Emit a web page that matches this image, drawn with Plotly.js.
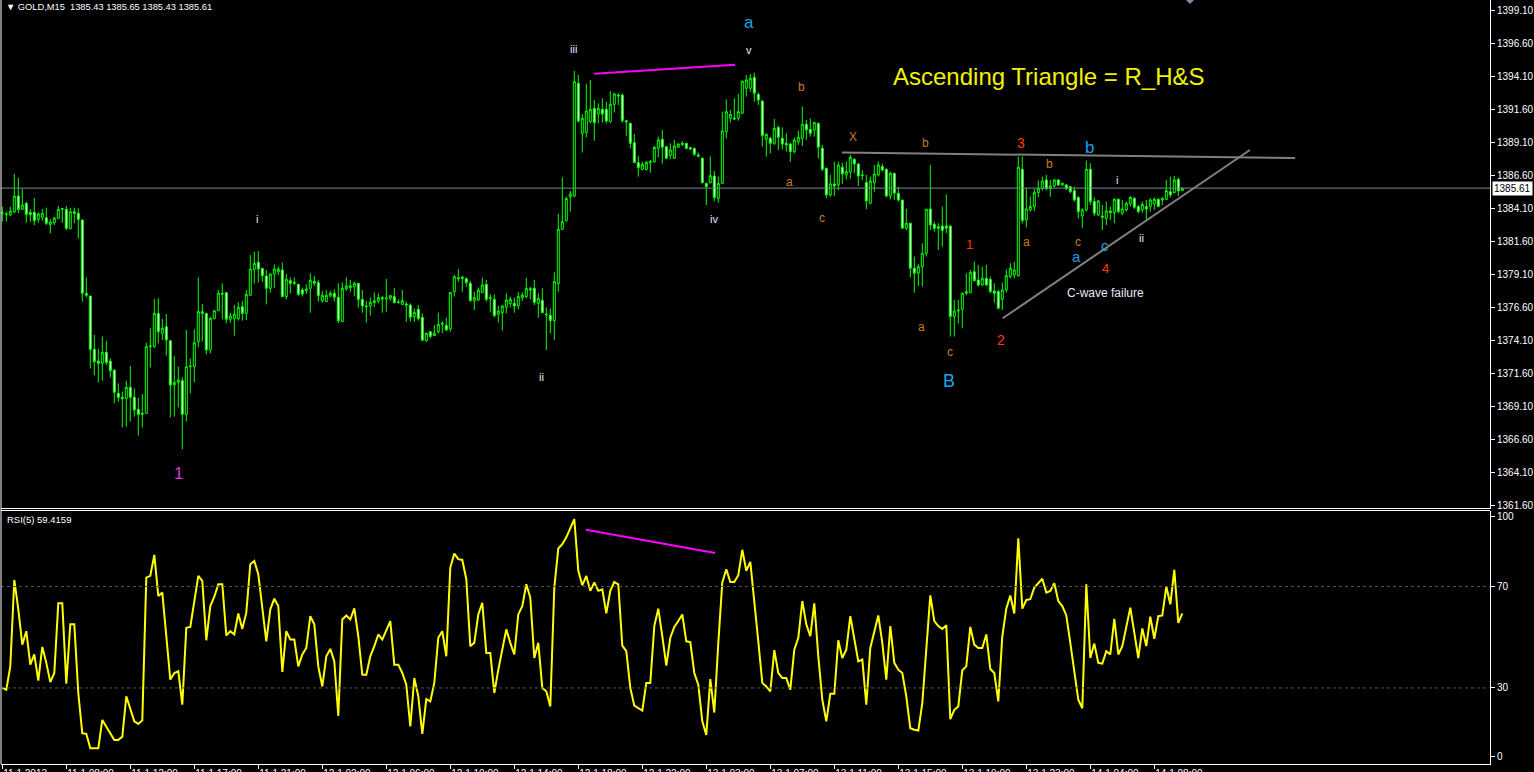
<!DOCTYPE html>
<html><head><meta charset="utf-8">
<script src="https://cdn.plot.ly/plotly-3.0.1.min.js"></script>
<style>html,body{margin:0;padding:0;background:#000;overflow:hidden}#c{width:1534px;height:772px}</style>
</head><body><div id="c"></div>
<script>
// ---- DATA: GOLD M15, 296 bars ----
const openP = [1383.70,1383.65,1383.57,1383.82,1385.01,1384.00,1384.46,1383.77,1383.77,1383.24,
1383.39,1383.37,1382.86,1382.99,1383.32,1384.05,1384.00,1382.54,1383.82,1383.70,
1383.19,1377.64,1377.44,1373.40,1372.51,1372.34,1373.17,1372.51,1371.83,1370.06,
1369.76,1369.68,1370.52,1369.76,1368.85,1368.47,1368.55,1373.60,1373.60,1376.12,
1374.61,1375.11,1374.05,1370.69,1370.90,1371.02,1368.47,1372.08,1372.08,1373.98,
1376.25,1376.12,1373.35,1375.72,1376.32,1377.64,1377.69,1375.67,1375.72,1375.72,
1376.63,1376.12,1377.49,1379.46,1379.99,1379.53,1378.95,1378.02,1379.10,1379.28,
1379.41,1377.39,1378.60,1378.47,1378.32,
1377.89,1377.84,1378.02,1378.55,1378.45,1377.08,1377.01,1377.44,1377.64,1377.34,
1375.49,1377.97,1378.07,1378.14,1378.40,1377.18,1376.68,1376.68,1376.93,1377.06,
1377.31,1377.23,1377.26,1377.39,1376.93,1376.80,1376.83,1376.75,1375.87,1376.43,
1375.82,1374.05,1374.73,1374.43,1374.73,1375.29,1375.21,1374.96,1377.76,1378.82,
1378.75,1378.75,1378.40,1377.08,1377.13,1377.71,1378.32,1377.23,1377.18,1376.05,
1376.17,1376.58,1376.88,1376.88,1376.70,1377.31,1377.39,1377.99,1378.02,1376.88,
1377.11,1376.07,1375.97,1375.57,1378.37,1382.49,1383.14,1384.96,1385.01,1393.55,
1389.76,1389.81,1390.64,1391.65,1391.22,1391.58,1391.58,1390.64,1391.96,1392.66,
1392.66,1390.72,1390.52,1389.05,1387.54,1387.03,1387.03,1387.54,1387.61,1388.62,
1389.31,1388.75,1388.07,1387.87,1388.70,1388.90,1389.00,1388.67,1388.62,1388.12,
1387.87,1385.97,1386.02,1386.53,1384.84,1385.97,1389.89,1390.90,1390.92,1390.90,
1391.28,1393.17,1393.17,1394.00,1392.71,1392.21,1389.31,1389.38,1389.00,1390.21,
1389.38,1389.00,1388.95,1388.37,1389.13,1389.38,1390.44,1390.06,1390.01,1390.52,
1388.63,1387.11,1385.09,1385.93,1385.85,1387.19,1386.61,1386.81,1387.79,1387.44,
1386.56,1386.03,1384.46,1386.03,1386.61,1387.24,1387.04,1385.01,1386.73,1385.22,
1384.71,1382.57,1382.95,1379.54,1379.16,1379.66,1380.67,1384.03,1382.87,1382.69,
1382.74,1382.74,1382.74,1375.88,1376.30,1376.43,1377.64,1377.69,1379.28,1378.65,
1378.27,1378.78,1378.70,1377.82,1377.77,1377.19,1377.90,1378.91,1379.03,1378.98,
1387.04,1383.20,1383.96,1384.21,1385.27,1385.60,1386.23,1385.60,1385.77,1386.23,
1385.85,1385.85,1385.72,1385.42,1384.91,1383.50,1383.96,1387.04,1384.59,1383.58,
1383.50,1383.32,1383.88,1383.75,1384.76,1383.70,1383.96,1384.41,1384.84,1384.21,
1383.96,1384.21,1384.21,1384.41,1384.76,1384.71,1384.76,1385.34,1385.27,1386.28,
1385.43];
const highP = [1384.20,1383.82,1384.20,1386.68,1386.40,1385.54,1384.56,1384.03,1384.86,1383.77,
1384.03,1384.13,1383.27,1383.42,1384.25,1384.10,1384.25,1384.10,1384.13,1384.08,
1383.24,1378.85,1377.44,1374.48,1373.42,1374.36,1374.03,1372.71,1371.83,1370.82,
1370.19,1371.00,1372.13,1370.44,1369.74,1370.01,1373.90,1374.99,1377.21,1377.28,
1375.69,1376.07,1374.10,1372.89,1372.08,1371.27,1374.86,1372.71,1374.91,1378.85,
1376.83,1376.12,1375.87,1376.38,1377.89,1378.40,1377.74,1376.17,1376.75,1376.96,
1377.06,1377.89,1380.54,1380.79,1380.84,1379.53,1379.41,1379.15,1379.83,1379.66,
1379.99,1379.10,1378.85,1378.85,1378.32,
1378.07,1378.32,1379.15,1378.95,1378.65,1377.81,1377.89,1377.84,1377.94,1378.40,
1378.47,1378.85,1378.65,1378.52,1378.40,1377.89,1377.08,1377.34,1377.71,1377.64,
1377.44,1378.72,1377.51,1378.04,1377.18,1377.89,1377.01,1376.88,1376.50,1376.75,
1376.12,1374.68,1374.78,1375.24,1376.17,1375.54,1375.79,1377.71,1379.03,1379.48,
1378.95,1378.85,1378.57,1377.74,1378.09,1378.82,1378.65,1377.56,1377.56,1376.68,
1376.75,1377.64,1377.39,1377.31,1377.74,1377.71,1378.80,1378.14,1378.65,1377.64,
1378.02,1376.58,1376.50,1379.23,1383.65,1386.42,1384.96,1385.39,1394.48,1394.18,
1391.22,1393.50,1393.80,1392.28,1392.03,1392.41,1392.16,1392.97,1392.84,1392.79,
1392.79,1390.77,1390.57,1389.71,1388.04,1387.61,1387.66,1387.74,1388.80,1389.51,
1390.01,1388.80,1389.00,1389.26,1389.00,1389.17,1389.05,1388.75,1388.67,1388.30,
1387.94,1386.02,1387.99,1386.91,1386.48,1391.40,1392.34,1391.53,1392.41,1392.74,
1393.72,1394.18,1394.25,1394.36,1392.84,1392.28,1389.76,1389.51,1390.85,1390.32,
1390.21,1389.76,1389.05,1389.43,1389.96,1391.78,1390.77,1390.90,1390.64,1390.57,
1388.88,1387.16,1386.61,1387.62,1387.62,1387.54,1387.62,1388.12,1387.87,1387.49,
1386.98,1386.61,1386.48,1387.36,1387.62,1387.44,1387.11,1386.86,1386.78,1385.72,
1384.71,1384.03,1382.95,1380.42,1379.86,1381.43,1384.01,1387.36,1383.07,1382.95,
1384.21,1385.14,1382.82,1377.14,1377.14,1377.70,1379.16,1379.41,1380.04,1379.79,
1379.66,1379.79,1378.91,1378.40,1377.90,1378.45,1379.46,1379.92,1380.04,1388.00,
1388.00,1385.60,1384.96,1385.55,1386.18,1386.48,1386.61,1386.23,1386.28,1386.28,
1386.03,1385.93,1385.77,1385.72,1385.01,1384.08,1387.69,1387.49,1384.91,1384.71,
1384.33,1384.59,1384.21,1384.84,1384.84,1384.71,1384.59,1385.01,1384.91,1384.33,
1384.59,1384.71,1384.84,1384.91,1384.84,1384.91,1386.23,1386.48,1386.53,1386.40,
1385.65];
const lowP = [1383.07,1383.07,1383.50,1383.70,1383.70,1383.95,1382.99,1383.07,1382.81,1382.99,
1383.14,1382.81,1382.18,1382.81,1383.29,1382.99,1382.43,1382.49,1382.94,1381.80,
1377.01,1377.34,1371.96,1371.45,1370.90,1371.02,1372.21,1371.27,1369.31,1369.43,
1367.49,1367.54,1367.92,1368.30,1366.86,1367.49,1368.55,1372.03,1373.52,1373.85,
1374.10,1372.92,1368.24,1368.30,1369.00,1365.82,1367.92,1370.06,1370.90,1373.55,
1373.98,1373.02,1373.09,1375.69,1376.32,1375.69,1375.37,1375.42,1374.43,1375.57,
1375.57,1375.62,1377.49,1378.40,1378.45,1378.52,1376.80,1377.69,1378.02,1379.03,
1377.39,1377.18,1377.64,1378.27,1377.46,
1377.39,1377.59,1376.17,1378.19,1377.01,1376.93,1377.01,1377.34,1377.01,1375.37,
1375.49,1377.84,1377.76,1377.44,1376.58,1376.17,1375.42,1375.95,1376.58,1376.88,
1376.17,1376.25,1377.08,1376.88,1376.88,1376.75,1375.49,1375.49,1375.49,1375.57,
1374.08,1373.98,1374.23,1374.43,1374.61,1374.61,1374.78,1374.73,1377.39,1378.52,
1377.76,1378.14,1377.01,1376.38,1377.06,1377.64,1377.01,1376.25,1375.82,1375.42,
1374.81,1376.12,1376.58,1376.17,1376.43,1377.06,1377.26,1377.18,1376.75,1375.79,
1376.17,1373.35,1374.61,1374.10,1377.76,1382.43,1383.07,1383.83,1384.91,1390.57,
1388.30,1389.46,1390.52,1389.20,1390.52,1390.57,1390.52,1390.57,1391.33,1391.91,
1390.57,1389.58,1388.62,1387.54,1386.48,1386.98,1386.93,1386.78,1387.54,1387.94,
1387.49,1387.79,1387.79,1387.82,1388.67,1388.80,1388.55,1388.50,1388.04,1387.94,
1385.97,1384.33,1385.97,1384.63,1384.51,1385.97,1389.38,1390.57,1390.77,1390.72,
1391.22,1392.54,1392.92,1392.16,1391.91,1388.75,1387.99,1388.24,1388.88,1388.50,
1388.55,1388.37,1387.61,1388.24,1388.88,1388.80,1389.26,1389.51,1389.51,1387.87,
1386.90,1384.84,1384.96,1385.01,1385.47,1385.93,1386.28,1386.35,1386.73,1385.77,
1386.23,1384.01,1384.41,1385.34,1386.48,1386.86,1384.91,1384.76,1384.71,1384.59,
1382.57,1382.44,1378.85,1377.69,1378.20,1378.15,1380.42,1382.44,1382.31,1380.93,
1381.18,1382.20,1374.36,1374.36,1375.37,1374.99,1377.50,1377.64,1378.53,1378.15,
1378.20,1378.20,1377.64,1376.94,1376.43,1376.38,1377.69,1378.78,1378.78,1378.91,
1382.95,1382.64,1383.83,1383.88,1384.91,1385.42,1385.47,1384.96,1385.67,1385.77,
1385.77,1385.47,1385.22,1384.59,1383.32,1382.57,1383.83,1384.33,1383.50,1383.50,
1382.44,1382.82,1383.20,1382.95,1383.70,1383.58,1383.83,1384.21,1384.01,1383.70,
1383.75,1383.20,1383.83,1383.96,1384.16,1384.33,1384.71,1384.91,1385.22,1385.01,
1385.43];
const closeP = [1383.75,1383.62,1383.87,1385.01,1384.00,1384.33,1383.62,1383.60,1383.14,1383.65,
1383.70,1382.94,1383.04,1383.34,1384.00,1384.03,1382.56,1383.82,1383.70,1383.24,
1377.64,1377.49,1373.40,1372.46,1372.34,1373.17,1372.39,1371.78,1370.14,1369.74,
1369.66,1370.52,1369.76,1368.80,1368.47,1368.55,1373.60,1373.65,1376.12,1374.73,
1374.99,1374.10,1370.69,1370.90,1371.07,1368.47,1372.08,1372.13,1373.90,1376.25,
1376.12,1373.35,1375.74,1376.32,1377.64,1377.59,1375.67,1375.92,1376.07,1376.58,
1376.12,1377.56,1379.48,1379.91,1379.48,1378.98,1378.02,1379.10,1379.48,1379.48,
1377.39,1378.70,1378.40,1378.40,1377.56,
1377.59,1377.97,1378.62,1378.40,1377.46,1377.49,1377.49,1377.64,1377.34,1375.57,
1378.02,1378.19,1378.22,1378.40,1377.18,1376.68,1376.63,1376.96,1377.08,1377.31,
1377.23,1377.28,1377.46,1376.93,1376.98,1377.08,1376.75,1375.82,1376.20,1375.72,
1374.08,1374.61,1374.36,1374.61,1375.29,1375.37,1374.86,1377.71,1378.90,1378.75,
1378.87,1378.45,1377.08,1377.31,1377.89,1378.27,1377.18,1377.31,1375.95,1376.30,
1376.68,1377.13,1377.18,1376.68,1377.39,1377.51,1378.02,1377.89,1376.96,1377.26,
1376.17,1376.02,1375.57,1378.52,1382.49,1383.07,1384.83,1385.16,1393.67,1390.69,
1390.90,1391.45,1391.58,1390.57,1391.65,1391.22,1390.69,1391.96,1392.74,1392.59,
1390.72,1390.62,1389.00,1387.54,1387.16,1387.41,1387.56,1387.61,1388.70,1389.26,
1388.70,1387.87,1388.50,1388.80,1388.95,1389.00,1388.62,1388.57,1388.17,1388.04,
1386.02,1385.72,1386.55,1384.89,1385.97,1389.94,1391.40,1391.20,1390.85,1391.40,
1393.72,1393.80,1393.93,1392.79,1392.28,1389.58,1389.68,1389.00,1390.14,1389.46,
1388.95,1388.88,1388.37,1389.26,1389.46,1390.44,1390.01,1389.76,1390.57,1388.70,
1387.04,1385.09,1385.93,1385.77,1387.36,1386.68,1386.86,1387.94,1387.44,1386.53,
1386.61,1384.64,1386.15,1386.68,1387.36,1386.98,1385.01,1386.73,1385.22,1384.71,
1382.57,1382.95,1379.54,1379.16,1379.66,1380.67,1384.01,1382.82,1382.57,1382.57,
1382.39,1382.57,1375.88,1376.30,1376.38,1377.64,1377.77,1379.23,1378.60,1378.27,
1378.78,1378.27,1377.77,1377.64,1376.51,1377.90,1378.98,1379.54,1379.41,1387.19,
1383.15,1384.03,1384.21,1385.27,1385.60,1386.15,1385.55,1385.77,1386.23,1385.85,
1385.98,1385.60,1385.34,1384.71,1383.83,1383.96,1387.04,1384.59,1383.70,1384.64,
1383.40,1383.88,1383.75,1384.76,1383.83,1384.03,1384.46,1384.91,1384.16,1383.83,
1384.38,1384.03,1384.71,1384.76,1384.21,1384.84,1385.42,1385.09,1386.23,1385.39,
1385.61];
const rsi5 = [30.0,29.3,38.5,72.6,61.0,47.1,52.4,39.2,43.2,32.9,
46.2,39.9,32.3,35.9,63.4,63.4,31.7,55.1,55.1,28.0,
12.1,11.9,6.2,6.2,6.2,17.4,14.8,12.1,9.5,9.5,
10.8,26.7,21.4,16.8,15.8,17.2,73.5,74.2,82.5,66.3,
67.6,51.7,33.3,35.9,36.6,23.4,53.7,54.1,65.0,74.2,
72.2,48.8,62.3,66.0,70.9,70.9,50.7,52.4,51.1,59.4,
53.3,59.7,78.8,80.1,74.9,62.3,48.4,61.0,65.2,62.3,
36.3,52.4,49.1,49.1,38.5,43.2,45.8,58.3,55.1,38.5,
30.6,42.5,45.4,40.5,19.0,57.0,58.6,57.0,61.4,50.4,
35.2,35.2,42.5,46.5,51.1,49.1,53.1,56.4,39.2,39.2,
35.9,31.3,14.8,33.9,26.7,11.9,25.6,24.7,32.0,49.8,
52.4,42.5,77.5,83.0,80.8,80.5,72.9,46.5,47.8,59.0,
63.6,43.8,43.8,28.0,37.2,45.1,53.1,47.8,43.2,59.0,
62.3,70.9,65.6,41.8,47.8,30.0,28.7,22.7,69.6,85.0,
86.7,89.4,93.3,96.6,76.2,70.5,74.2,68.3,71.6,68.3,
68.9,59.4,68.3,71.8,70.9,46.7,44.5,30.0,23.0,22.0,
21.1,32.0,32.0,54.4,61.3,50.4,38.8,49.8,54.1,56.4,
59.0,48.4,48.1,35.9,31.3,16.8,11.5,33.5,20.3,47.8,
71.6,76.8,71.8,71.8,74.5,84.5,76.2,79.7,65.0,48.4,
32.0,30.6,28.6,44.9,35.9,33.9,33.9,29.3,45.1,49.8,
64.3,55.1,50.4,63.4,42.5,25.4,16.8,27.7,27.7,48.8,
41.8,45.1,58.3,49.1,40.5,41.2,23.4,45.8,51.7,58.6,
47.8,33.3,54.4,39.9,37.2,35.9,26.7,14.1,13.5,13.2,
24.0,46.5,66.5,56.4,54.4,53.3,54.7,17.7,21.4,22.7,
37.0,38.5,54.1,47.1,45.8,45.8,51.1,37.5,35.9,24.7,
50.4,61.3,66.5,59.4,89.0,61.3,64.7,65.0,69.6,71.3,
73.1,67.6,68.3,71.3,64.3,62.3,58.6,47.8,35.9,25.4,
22.0,70.9,41.8,47.5,39.9,39.6,44.5,43.2,57.3,43.2,
46.5,54.4,61.7,51.8,41.8,53.5,46.5,58.1,49.4,58.3,
58.6,70.0,63.0,76.6,55.7,59.42];
const barIdx = openP.map((_, i) => i);
const priceTicks = [1361.60,1364.10,1366.60,1369.10,1371.60,1374.10,1376.60,1379.10,1381.60,1384.10,1386.60,1389.10,1391.60,1394.10,1396.60,1399.10];
const rsiTickPos = [2.8,30,70,97.6];
const rsiTickText = ['0','30','70','100'];
const timeTickBars = [0,16,32,48,64,80,96,112,128,144,160,176,192,208,224,240,256,272,288];
const timeTickLabels = ['11.1 2013','11.1 08:00','11.1 12:00','11.1 17:00','11.1 21:00','12.1 02:00','12.1 06:00','12.1 10:00','12.1 14:00','12.1 18:00','12.1 22:00','13.1 03:00','13.1 07:00','13.1 11:00','13.1 15:00','13.1 19:00','13.1 23:00','14.1 04:00','14.1 08:00'];
const lastPrice = 1385.61;
// drawn lines (bar index, value)
const resistX = [209.9, 323.2], resistY = [1388.31, 1387.89];
const supportX = [250.1, 311.9], supportY = [1375.75, 1388.50];
const divPriceX = [148.0, 183.2], divPriceY = [1394.28, 1394.96];
const divRsiX = [145.9, 178.2], divRsiY = [92.4, 83.2];

// ---- layout helpers ----
const W = 1534, H = 772, ML = 1, MR = 44, MT = 0, MB = 8;
const PW = W - ML - MR, PH = H - MT - MB;
const px = v => (v - ML) / PW;
const py = v => 1 - (v - MT) / PH;
const F = 'Liberation Sans, Arial, sans-serif';
const CYAN = '#1AA3E8', ORG = '#C97A22', RED = '#FF3A10', WHT = '#E6E8F8', MAG = '#D63FD6';

function lab(text, x, y, color, size) {
  return {text: text, x: px(x), y: py(y), xref: 'paper', yref: 'paper', showarrow: false,
    font: {family: F, size: size, color: color}, xanchor: 'center', yanchor: 'middle'};
}
const annotations = [
  lab('a', 749, 23, CYAN, 17), lab('iii', 573, 49, WHT, 11), lab('v', 749, 50, WHT, 11),
  lab('i', 257, 219, WHT, 11), lab('ii', 541, 377, WHT, 11), lab('iv', 714, 219, WHT, 11),
  lab('1', 178, 473, MAG, 17), lab('b', 801, 87, ORG, 12), lab('X', 853, 137, ORG, 12),
  lab('a', 789, 182, ORG, 12), lab('c', 822, 218, ORG, 12), lab('b', 925, 143, ORG, 12),
  lab('a', 921, 327, ORG, 12), lab('c', 950, 352, ORG, 12), lab('1', 969, 244, RED, 13),
  lab('2', 1001, 340, RED, 14), lab('3', 1021, 143, RED, 14), lab('4', 1105, 268, RED, 13),
  lab('a', 1026, 242, ORG, 12), lab('b', 1049, 164, ORG, 12), lab('c', 1078, 242, ORG, 12),
  lab('b', 1089, 147, CYAN, 17), lab('a', 1076, 257, CYAN, 15), lab('c', 1105, 246, CYAN, 15),
  lab('i', 1117, 180, WHT, 11), lab('ii', 1141, 238, WHT, 11), lab('B', 949, 381, CYAN, 18),
  lab('C-wave failure', 1105, 293, WHT, 12),
  lab('Ascending Triangle = R_H&S', 1049, 77, '#F2F200', 24),
  {text: '\u25BC GOLD,M15  1385.43 1385.65 1385.43 1385.61', x: px(4), y: py(7), xref: 'paper', yref: 'paper',
   showarrow: false, xanchor: 'left', yanchor: 'middle', font: {family: F, size: 9.3, color: '#FFFFFF'}},
  {text: 'RSI(5) 59.4159', x: px(5), y: py(519), xref: 'paper', yref: 'paper',
   showarrow: false, xanchor: 'left', yanchor: 'middle', font: {family: F, size: 9.5, color: '#FFFFFF'}},
  {text: lastPrice.toFixed(2), x: 1.0013, y: lastPrice, xref: 'paper', yref: 'y', showarrow: false,
   xanchor: 'left', yanchor: 'middle', bgcolor: '#FFFFFF', borderpad: 1, font: {family: F, size: 10, color: '#000000'}}
];

const shapes = [
  {type: 'line', xref: 'paper', yref: 'y', x0: 0, x1: 1, y0: lastPrice, y1: lastPrice, line: {color: '#778899', width: 1}},
  {type: 'line', xref: 'paper', yref: 'y2', x0: 0, x1: 1, y0: 70, y1: 70, line: {color: '#555555', width: 1, dash: '3px,3px'}},
  {type: 'line', xref: 'paper', yref: 'y2', x0: 0, x1: 1, y0: 30, y1: 30, line: {color: '#555555', width: 1, dash: '3px,3px'}},
  {type: 'line', xref: 'paper', yref: 'paper', x0: 0, x1: 1, y0: py(508.5), y1: py(508.5), line: {color: '#FFFFFF', width: 1}},
  {type: 'line', xref: 'paper', yref: 'paper', x0: 0, x1: 1, y0: py(510.5), y1: py(510.5), line: {color: '#FFFFFF', width: 1}},
  {type: 'line', xref: 'paper', yref: 'paper', x0: 0, x1: 0, y0: 0, y1: 1, line: {color: '#FFFFFF', width: 1}},
  {type: 'path', xref: 'paper', yref: 'paper',
   path: 'M ' + px(1185) + ' ' + py(-1) + ' L ' + px(1195) + ' ' + py(-1) + ' L ' + px(1190) + ' ' + py(4) + ' Z',
   fillcolor: '#7F8FAA', line: {width: 0}}
];

const traces = [
  {type: 'candlestick', x: barIdx, open: openP, high: highP, low: lowP, close: closeP,
   xaxis: 'x', yaxis: 'y', whiskerwidth: 0,
   increasing: {line: {color: '#00FF00', width: 1}, fillcolor: '#000000'},
   decreasing: {line: {color: '#00FF00', width: 1}, fillcolor: '#FFFFFF'},
   hoverinfo: 'skip'},
  {type: 'scatter', mode: 'lines', x: resistX, y: resistY, xaxis: 'x', yaxis: 'y', line: {color: '#808080', width: 2}, hoverinfo: 'skip'},
  {type: 'scatter', mode: 'lines', x: supportX, y: supportY, xaxis: 'x', yaxis: 'y', line: {color: '#808080', width: 2}, hoverinfo: 'skip'},
  {type: 'scatter', mode: 'lines', x: divPriceX, y: divPriceY, xaxis: 'x', yaxis: 'y', line: {color: '#FF00FF', width: 2}, hoverinfo: 'skip'},
  {type: 'scatter', mode: 'lines', x: barIdx, y: rsi5, xaxis: 'x', yaxis: 'y2', line: {color: '#FFFF00', width: 2}, hoverinfo: 'skip'},
  {type: 'scatter', mode: 'lines', x: divRsiX, y: divRsiY, xaxis: 'x', yaxis: 'y2', line: {color: '#FF00FF', width: 2}, hoverinfo: 'skip'}
];

const tickFont = {family: F, size: 10, color: '#FFFFFF'};
const layout = {
  width: W, height: H, paper_bgcolor: '#000000', plot_bgcolor: '#000000',
  margin: {l: ML, r: MR, t: MT, b: MB, pad: 0}, showlegend: false,
  boxgap: 0.5, boxgroupgap: 0, hovermode: false,
  xaxis: {range: [-0.325, 371.925], anchor: 'y2', showgrid: false, zeroline: false,
    showline: true, linecolor: '#FFFFFF', linewidth: 1, ticks: 'outside', ticklen: 4, tickcolor: '#FFFFFF',
    tickvals: timeTickBars, ticktext: timeTickLabels, tickfont: tickFont, ticklabelposition: 'outside right',
    rangeslider: {visible: false}, fixedrange: true},
  yaxis: {domain: [py(508.5), 1], range: [1361.34, 1399.86], side: 'right', anchor: 'x',
    showgrid: false, zeroline: false, showline: true, linecolor: '#FFFFFF', ticks: 'outside', ticklen: 4,
    tickcolor: '#FFFFFF', tickvals: priceTicks, ticktext: priceTicks.map(v => v.toFixed(2)), tickfont: tickFont, fixedrange: true},
  yaxis2: {domain: [0, py(510.5)], range: [0, 100], side: 'right', anchor: 'x',
    showgrid: false, zeroline: false, showline: true, linecolor: '#FFFFFF', ticks: 'outside', ticklen: 4,
    tickcolor: '#FFFFFF', tickvals: rsiTickPos, ticktext: rsiTickText, tickfont: tickFont, fixedrange: true},
  annotations: annotations, shapes: shapes
};
Plotly.newPlot('c', traces, layout, {staticPlot: true, displayModeBar: false});
</script></body></html>
